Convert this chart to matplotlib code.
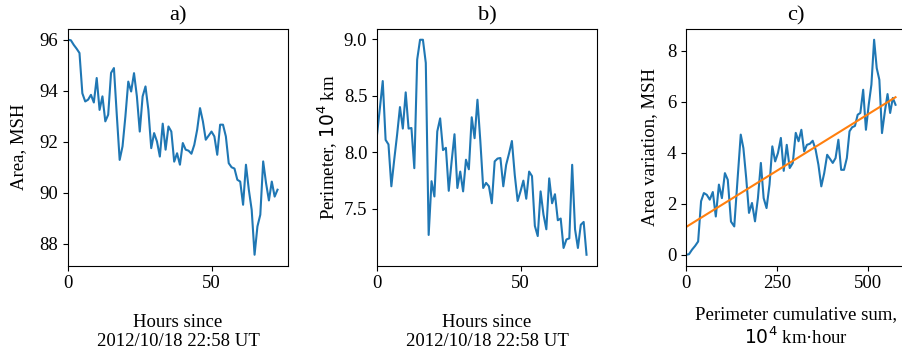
import numpy as np
import matplotlib
matplotlib.use('Agg')
import matplotlib.pyplot as plt

plt.rcParams['font.family'] = ['Liberation Serif', 'DejaVu Serif']
plt.rcParams['font.size'] = 13.5

# hours since 2012/10/18 22:58 UT (hourly samples)
hours = np.arange(74)

# a) sunspot area, MSH
area = [96.0, 95.98, 95.8, 95.65, 95.48, 93.9, 93.58, 93.65, 93.84, 93.54,
        94.5, 93.25, 93.78, 92.8, 93.06, 94.7, 94.89, 93.05, 91.29, 91.82,
        93.0, 94.36, 93.97, 94.69, 93.78, 92.4, 93.78, 94.17, 93.25, 91.75,
        92.34, 92.01, 91.42, 92.71, 91.69, 92.6, 92.4, 91.22, 91.55, 91.1,
        91.95, 91.69, 91.65, 91.53, 91.88, 92.47, 93.32, 92.8, 92.08, 92.24,
        92.4, 92.21, 91.49, 92.67, 92.67, 92.21, 91.16, 91.0, 90.95, 90.51,
        90.44, 89.53, 91.1, 90.12, 89.33, 87.57, 88.68, 89.14, 91.23, 90.38,
        89.7, 90.44, 89.85, 90.12]

# b) perimeter, 10^4 km
perimeter = [8.155, 8.39, 8.63, 8.11, 8.07, 7.70, 7.935, 8.155, 8.40, 8.21,
             8.53, 8.21, 8.215, 7.86, 8.82, 8.995, 8.995, 8.79, 7.27, 7.745,
             7.61, 8.185, 8.30, 8.02, 8.04, 7.66, 7.92, 8.16, 7.685, 7.83,
             7.655, 7.935, 7.85, 8.31, 8.125, 8.465, 8.10, 7.685, 7.73, 7.70,
             7.55, 7.92, 7.945, 7.95, 7.70, 7.89, 7.99, 8.10, 7.80, 7.57,
             7.655, 7.75, 7.59, 7.83, 7.79, 7.35, 7.26, 7.655, 7.45, 7.32,
             7.77, 7.55, 7.63, 7.40, 7.415, 7.155, 7.23, 7.24, 7.89, 7.32,
             7.155, 7.36, 7.385, 7.095]

area = np.array(area)
perimeter = np.array(perimeter)

# c) area change vs cumulative perimeter
variation = area[0] - area
perim_cum = np.concatenate([[0], np.cumsum(perimeter[:-1] * np.diff(hours))])
fit = np.polyfit(perim_cum, variation, 1)

fig = plt.figure(figsize=(9.02, 3.55), dpi=100)

W, H = 902, 355
def box(x0):
    return [x0 / W, (H - 265.5) / H, 220 / W, 236.5 / H]

ax1 = fig.add_axes(box(68))
ax1.plot(hours, area)
ax1.set_xlim(left=0)
ax1.set_xticks([0, 50])
ax1.set_title('a)')
ax1.set_ylabel('Area, MSH', labelpad=9)
ax1.set_xlabel('Hours since\n2012/10/18 22:58 UT', labelpad=15.5)

ax2 = fig.add_axes(box(377))
ax2.plot(hours, perimeter)
ax2.set_xlim(left=0)
ax2.set_xticks([0, 50])
ax2.set_yticks([7.5, 8.0, 8.5, 9.0])
ax2.set_title('b)')
ax2.set_ylabel('Perimeter, $10^4$ km', labelpad=2.5)
ax2.set_xlabel('Hours since\n2012/10/18 22:58 UT', labelpad=15.5)

ax3 = fig.add_axes(box(686))
ax3.plot(perim_cum, variation)
ax3.plot(perim_cum, np.polyval(fit, perim_cum))
ax3.set_xlim(left=0)
ax3.set_xticks([0, 250, 500])
ax3.set_title('c)')
ax3.set_ylabel('Area variation, MSH', labelpad=6)
ax3.set_xlabel('Perimeter cumulative sum,\n$10^4$ km\u00b7hour', labelpad=10)

plt.savefig('out.png', dpi=100)
